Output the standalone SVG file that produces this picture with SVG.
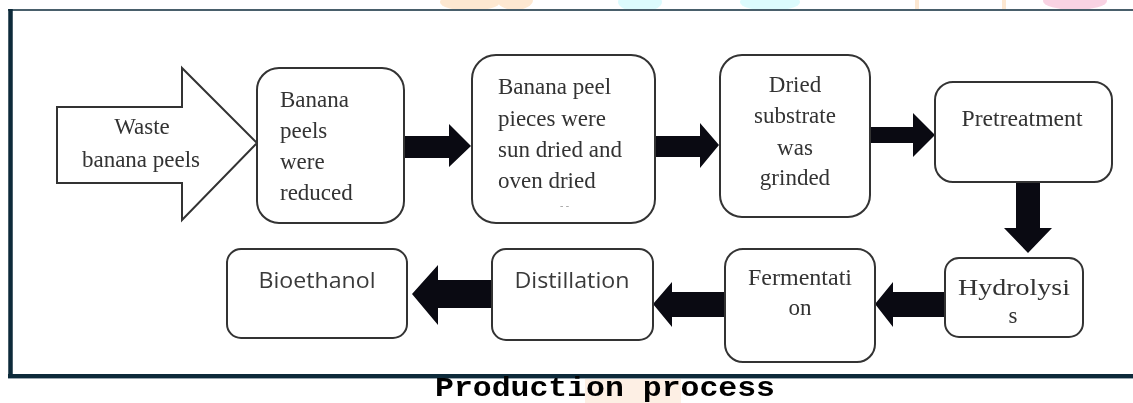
<svg xmlns="http://www.w3.org/2000/svg" width="1133" height="403" viewBox="0 0 1133 403">
<style>
.box{fill:#fff;stroke:#333;stroke-width:2}
.t{font-family:"Liberation Serif","Times New Roman",serif;font-size:23px;fill:#333}
.s{font-family:"Open Sans","Liberation Sans",sans-serif;font-size:21px;fill:#3a3a3a}
.mid{text-anchor:middle}
.arr{fill:#0a0a12}
.frame{stroke:#0d2a3a}
</style>
<rect width="1133" height="403" fill="#fff"/>
<g id="watermark" opacity="0.9">
<clipPath id="topclip"><rect x="0" y="0" width="1133" height="9"/></clipPath>
<g clip-path="url(#topclip)">
<ellipse cx="470" cy="2" rx="30" ry="9" fill="#fde6cc"/>
<ellipse cx="515" cy="0" rx="18" ry="10" fill="#fde6cc"/>
<ellipse cx="640" cy="2" rx="22" ry="10" fill="#d8fbfd"/>
<ellipse cx="770" cy="2" rx="30" ry="9" fill="#d8fbfd"/>
<rect x="915" y="0" width="4" height="9" fill="#fde6cc"/>
<rect x="1002" y="0" width="4" height="9" fill="#fde6cc"/>
<ellipse cx="1075" cy="1" rx="32" ry="9" fill="#f9cfe0"/>
</g>
<rect x="585" y="379" width="96" height="24" fill="#fdeee1"/>
</g>
<g id="frame">
<line class="frame" x1="8" y1="10" x2="1133" y2="10" stroke-width="1.6"/>
<line class="frame" x1="10.5" y1="9" x2="10.5" y2="378" stroke-width="4.5"/>
<line class="frame" x1="8" y1="376" x2="1133" y2="376" stroke-width="4"/>
<line x1="8" y1="378.5" x2="1133" y2="378.5" stroke="#9aa7b0" stroke-width="1"/>
</g>
<g id="connectors">
<polygon class="arr" points="403,136 449,136 449,124 471,146 449,167 449,158 403,158"/>
<polygon class="arr" points="654,136 700,136 700,123 719,145 700,168 700,157 654,157"/>
<polygon class="arr" points="869,127 913,127 913,113 935,135 913,157 913,143 869,143"/>
<polygon class="arr" points="1016,181 1040,181 1040,228 1052,228 1028,253 1004,228 1016,228"/>
<polygon class="arr" points="946,292 893,292 893,282 875,304 893,327 893,317 946,317"/>
<polygon class="arr" points="726,292 672,292 672,282 653,304 672,327 672,317 726,317"/>
<polygon class="arr" points="493,280 438,280 438,265 412,294 438,325 438,308 493,308"/>
</g>
<g id="n1">
<polygon points="57,107 182,107 182,68 257,143 182,220 182,183 57,183" fill="#fff" stroke="#333" stroke-width="2"/>
<text class="t mid" x="142" y="134">Waste</text>
<text class="t mid" x="141" y="167">banana peels</text>
</g>
<g id="n2">
<rect class="box" x="257" y="68" width="147" height="155" rx="22"/>
<text class="t" x="280" y="107">Banana</text>
<text class="t" x="280" y="138">peels</text>
<text class="t" x="280" y="169">were</text>
<text class="t" x="280" y="200">reduced</text>
</g>
<g id="n3">
<rect class="box" x="472" y="55" width="183" height="168" rx="24"/>
<text class="t" x="498" y="94">Banana peel</text>
<text class="t" x="498" y="126">pieces were</text>
<text class="t" x="498" y="157">sun dried and</text>
<text class="t" x="498" y="188">oven dried</text>
<text x="560" y="209" font-family="Liberation Serif,serif" font-size="10" fill="#999">-  -</text>
</g>
<g id="n4">
<rect class="box" x="720" y="55" width="150" height="162" rx="22"/>
<text class="t mid" x="795" y="92">Dried</text>
<text class="t mid" x="795" y="123">substrate</text>
<text class="t mid" x="795" y="155">was</text>
<text class="t mid" x="795" y="185">grinded</text>
</g>
<g id="n5">
<rect class="box" x="935" y="82" width="177" height="100" rx="18"/>
<text class="t mid" x="1022" y="126" textLength="121" lengthAdjust="spacingAndGlyphs">Pretreatment</text>
</g>
<g id="n6">
<rect class="box" x="945" y="258" width="138" height="79" rx="14"/>
<text class="t mid" x="1014" y="295" textLength="112" lengthAdjust="spacingAndGlyphs">Hydrolysi</text>
<text class="t mid" x="1013" y="323">s</text>
</g>
<g id="n7">
<rect class="box" x="725" y="249" width="150" height="113" rx="18"/>
<text class="t mid" x="800" y="285" textLength="104" lengthAdjust="spacingAndGlyphs">Fermentati</text>
<text class="t mid" x="800" y="315">on</text>
</g>
<g id="n8">
<rect class="box" x="492" y="249" width="161" height="91" rx="14"/>
<text class="s mid" x="572" y="288" textLength="115" lengthAdjust="spacingAndGlyphs">Distillation</text>
</g>
<g id="n9">
<rect class="box" x="227" y="249" width="180" height="89" rx="14"/>
<text class="s mid" x="317" y="288" textLength="117" lengthAdjust="spacingAndGlyphs">Bioethanol</text>
</g>
<g id="caption">
<text x="435" y="396" font-family="Liberation Mono,Courier New,monospace" font-weight="bold" font-size="27" fill="#000" textLength="340" lengthAdjust="spacingAndGlyphs">Production process</text>
</g>
</svg>
